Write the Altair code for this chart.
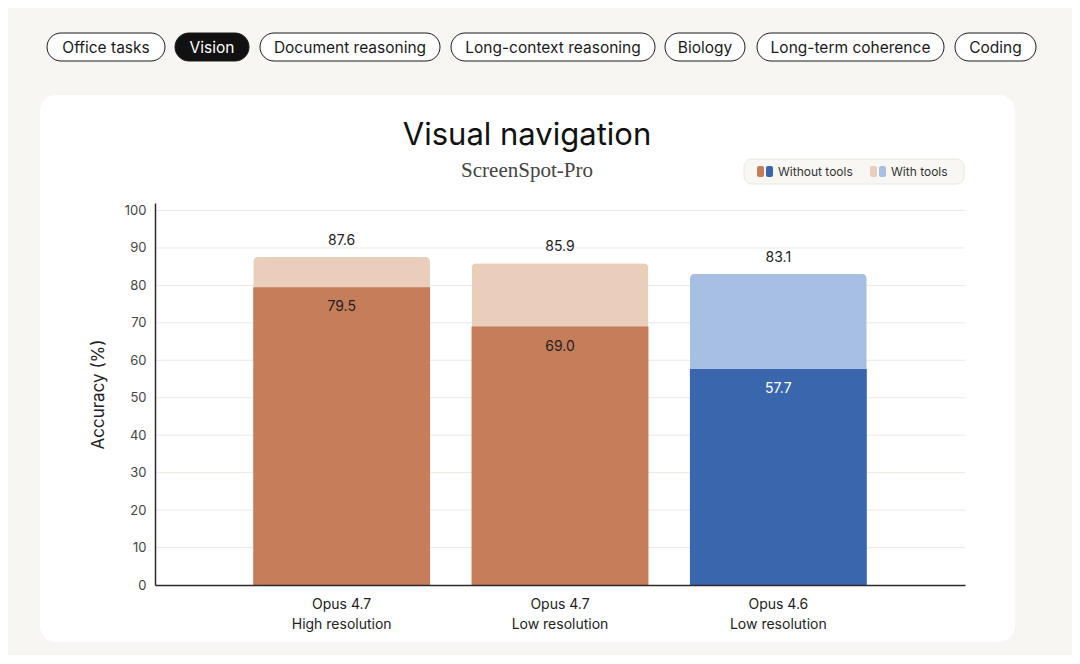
import altair as alt
import pandas as pd

# ---------------- data ----------------
models = ["Opus 4.7\nHigh resolution", "Opus 4.7\nLow resolution", "Opus 4.6\nLow resolution"]
families = ["Opus 4.7", "Opus 4.7", "Opus 4.6"]
without_tools = [79.5, 69.0, 57.7]
with_tools = [87.6, 85.9, 83.1]
y_ticks = [0, 10, 20, 30, 40, 50, 60, 70, 80, 90, 100]

tabs = ["Office tasks", "Vision", "Document reasoning", "Long-context reasoning",
        "Biology", "Long-term coherence", "Coding"]
active_tab = "Vision"
legend_labels = ["Without tools", "With tools"]
title_text = "Visual navigation"
subtitle_text = "ScreenSpot-Pro"
y_title = "Accuracy (%)"

# ---------------- layout (page pixel coordinates) ----------------
tab_x0 = [47, 175, 260, 451, 665, 757, 955]
tab_x1 = [165, 249, 440, 655, 745, 944, 1036]
PLOT_L, PLOT_T, PLOT_W, PLOT_H = 155, 203, 810, 382
SANS = "Inter"
SERIF = "Liberation Serif"

key_domain = ["Opus 4.7|without", "Opus 4.7|with", "Opus 4.6|without", "Opus 4.6|with"]
key_colors = ["#c67d5a", "#ebcdbc", "#3a66ad", "#a7bfe3"]

bars = pd.DataFrame({
    "model": models,
    "family": families,
    "without": without_tools,
    "with": with_tools,
})
bars["key_dark"] = bars["family"] + "|without"
bars["key_light"] = bars["family"] + "|with"
bars["lab_without"] = [f"{v:.1f}" for v in without_tools]
bars["lab_with"] = [f"{v:.1f}" for v in with_tools]

grid = pd.DataFrame({"tick": y_ticks[1:]})

# ---------------- data layer ----------------
x_enc = alt.X(
    "model:N", sort=models,
    scale=alt.Scale(domain=models, paddingInner=0.19, paddingOuter=0.45),
    axis=alt.Axis(title=None, labelExpr="split(datum.label, '\\n')", ticks=False,
                  domainColor="#2b2b2b", domainWidth=1.5, labelFont=SANS,
                  labelFontSize=14, labelColor="#222222", labelPadding=12,
                  labelLineHeight=20, labelAngle=0, zindex=1),
)
y_scale = alt.Scale(domain=[0, 102], nice=False, zero=True)
y_axis = alt.Axis(values=y_ticks, grid=False, ticks=False, title=y_title,
                  domainColor="#2b2b2b", domainWidth=1.5, labelFont=SANS,
                  labelFontSize=13, labelColor="#444444", labelPadding=9,
                  titleFont=SANS, titleFontSize=17, titleFontWeight="normal",
                  titleColor="#222222", titlePadding=17, zindex=1)
color_scale = alt.Scale(domain=key_domain, range=key_colors)

gridlines = alt.Chart(grid).mark_rule(color="#ebe9e3", strokeWidth=1).encode(
    y=alt.Y("tick:Q", scale=y_scale, axis=y_axis)
)
light = alt.Chart(bars).mark_bar(cornerRadiusTopLeft=5, cornerRadiusTopRight=5).encode(
    x=x_enc,
    y=alt.Y("with:Q", scale=y_scale, axis=y_axis),
    color=alt.Color("key_light:N", scale=color_scale, legend=None),
)
dark = alt.Chart(bars).mark_bar().encode(
    x=x_enc,
    y=alt.Y("without:Q", scale=y_scale, axis=y_axis),
    color=alt.Color("key_dark:N", scale=color_scale, legend=None),
)
top_labels = alt.Chart(bars).mark_text(font=SANS, fontSize=14, dy=-16, color="#222222").encode(
    x=x_enc,
    y=alt.Y("with:Q", scale=y_scale, axis=y_axis),
    text="lab_with:N",
)
in_labels = alt.Chart(bars).mark_text(font=SANS, fontSize=14, dy=20).encode(
    x=x_enc,
    y=alt.Y("without:Q", scale=y_scale, axis=y_axis),
    text="lab_without:N",
    color=alt.condition("datum.family == 'Opus 4.6'", alt.value("white"), alt.value("#222222")),
)
data_layer = alt.layer(gridlines, light, dark, top_labels, in_labels)

# ---------------- decoration layer (page pixel scale) ----------------
px = alt.Scale(domain=[PLOT_L, PLOT_L + PLOT_W], range=[0, PLOT_W], zero=False, nice=False)
py = alt.Scale(domain=[PLOT_T, PLOT_T + PLOT_H], range=[0, PLOT_H], zero=False, nice=False)

def X(f):
    return alt.X(f, type="quantitative", scale=px, axis=None)

def Y(f):
    return alt.Y(f, type="quantitative", scale=py, axis=None)

card_df = pd.DataFrame({"x0": [40], "x1": [1015], "y0": [95], "y1": [642]})
card = alt.Chart(card_df).mark_rect(fill="white", cornerRadius=16).encode(
    x=X("x0"), x2="x1", y=Y("y0"), y2="y1")

tabs_df = pd.DataFrame({"label": tabs, "x0": tab_x0, "x1": tab_x1})
tabs_df["xm"] = (tabs_df["x0"] + tabs_df["x1"]) / 2
tabs_df["y0"] = 33
tabs_df["y1"] = 61
tabs_df["ym"] = 47.5
tabs_df["active"] = tabs_df["label"] == active_tab
pill_rect = alt.Chart(tabs_df).mark_rect(cornerRadius=14, stroke="#1a1a1a", strokeWidth=1).encode(
    x=X("x0"), x2="x1", y=Y("y0"), y2="y1",
    fill=alt.condition("datum.active", alt.value("#111111"), alt.value("white")),
)
pill_text = alt.Chart(tabs_df).mark_text(font=SANS, fontSize=15.5, baseline="middle").encode(
    x=X("xm"), y=Y("ym"), text="label:N",
    color=alt.condition("datum.active", alt.value("white"), alt.value("#1a1a1a")),
)

leg_box_df = pd.DataFrame({"x0": [744], "x1": [964], "y0": [159], "y1": [184]})
leg_box = alt.Chart(leg_box_df).mark_rect(cornerRadius=8, fill="#f9f7f3", stroke="#e9e6df", strokeWidth=1).encode(
    x=X("x0"), x2="x1", y=Y("y0"), y2="y1")
sw_df = pd.DataFrame({
    "x0": [757, 766, 870, 879], "x1": [764, 773, 877, 886],
    "fill": [key_colors[0], key_colors[2], key_colors[1], key_colors[3]],
})
sw_df["y0"] = 166
sw_df["y1"] = 177
swatches = alt.Chart(sw_df).mark_rect(cornerRadius=2).encode(
    x=X("x0"), x2="x1", y=Y("y0"), y2="y1", fill=alt.Fill("fill:N", scale=None))
leg_txt_df = pd.DataFrame({"label": legend_labels, "x": [778, 891], "y": [171.5, 171.5]})
leg_text = alt.Chart(leg_txt_df).mark_text(font=SANS, fontSize=12, align="left", baseline="middle", color="#333333").encode(
    x=X("x"), y=Y("y"), text="label:N")

title_df = pd.DataFrame({"label": [title_text], "x": [527], "y": [136]})
title = alt.Chart(title_df).mark_text(font=SANS, fontSize=31, fontWeight="normal", baseline="middle", color="#111111").encode(
    x=X("x"), y=Y("y"), text="label:N")
sub_df = pd.DataFrame({"label": [subtitle_text], "x": [527], "y": [171]})
subtitle = alt.Chart(sub_df).mark_text(font=SERIF, fontSize=21, baseline="middle", color="#444444").encode(
    x=X("x"), y=Y("y"), text="label:N")

decor = alt.layer(card, pill_rect, pill_text, leg_box, swatches, leg_text, title, subtitle)

chart = alt.layer(decor, data_layer).resolve_scale(
    x="independent", y="independent", color="independent", fill="independent"
).properties(
    width=PLOT_W, height=PLOT_H,
    autosize=alt.AutoSizeParams(type="none"),
    padding={"left": PLOT_L - 8, "top": PLOT_T - 8, "right": 1072 - PLOT_L - PLOT_W, "bottom": 655 - PLOT_T - PLOT_H},
    background="#f8f6f2",
).configure_view(stroke=None)

chart.save("out.html", embed_options={"renderer": "svg", "actions": False})
